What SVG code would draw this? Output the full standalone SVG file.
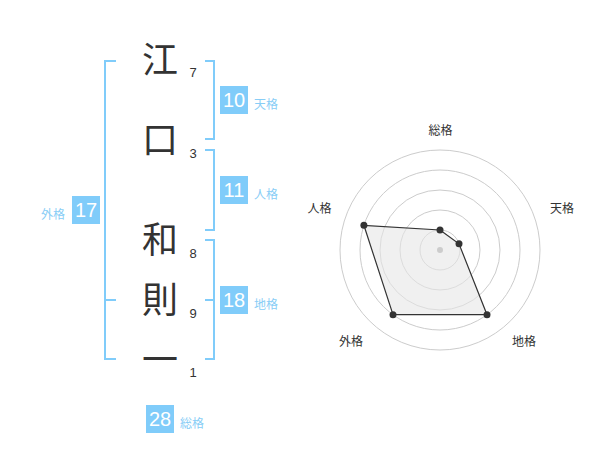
<svg xmlns="http://www.w3.org/2000/svg" width="600" height="470" viewBox="0 0 600 470">
<style>
.ch{font-family:"Noto Sans CJK JP","Noto Sans CJK SC",sans-serif;font-size:36px;fill:#333;text-anchor:middle}
.st{font-family:"Liberation Sans",Arial,sans-serif;font-size:13px;fill:#333;text-anchor:middle}
.bx{fill:#80ccfa}
.bn{font-family:"Liberation Sans",Arial,sans-serif;font-size:20px;fill:#fff;text-anchor:middle}
.bl{font-family:"Noto Sans CJK JP","Noto Sans CJK SC",sans-serif;font-size:12px;fill:#88cdf6}
.br{fill:none;stroke:#80ccfa;stroke-width:2}
.ring{fill:none;stroke:#cccccc;stroke-width:1}
.rl{font-family:"Noto Sans CJK JP","Noto Sans CJK SC",sans-serif;font-size:12px;fill:#333;text-anchor:middle}
</style>
<rect width="600" height="470" fill="#fff"/>
<g id="connectors">
<path class="br" d="M116,61 H105 V359 H116 M105,300 H116"/>
<path class="br" d="M205,61 H214 V139 H205"/>
<path class="br" d="M205,150 H214 V230 H205"/>
<path class="br" d="M205,240 H214 V359 H205 M205,300 H214"/>
</g>
<g id="char-1"><text class="ch" x="160" y="73">江</text><text class="st" x="193" y="77">7</text></g>
<g id="char-2"><text class="ch" x="160" y="153">口</text><text class="st" x="193" y="158">3</text></g>
<g id="char-3"><text class="ch" x="160" y="253">和</text><text class="st" x="193" y="258">8</text></g>
<g id="char-4"><text class="ch" x="160" y="313">則</text><text class="st" x="193" y="318">9</text></g>
<g id="char-5"><text class="ch" x="160" y="373">一</text><text class="st" x="193" y="377">1</text></g>
<g id="tenkaku"><rect class="bx" x="220" y="86" width="28" height="28"/><text class="bn" x="234" y="107">10</text><text class="bl" x="254" y="109">天格</text></g>
<g id="jinkaku"><rect class="bx" x="220" y="176" width="28" height="28"/><text class="bn" x="234" y="197">11</text><text class="bl" x="254" y="199">人格</text></g>
<g id="chikaku"><rect class="bx" x="220" y="286" width="28" height="28"/><text class="bn" x="234" y="307">18</text><text class="bl" x="254" y="309">地格</text></g>
<g id="gaikaku"><rect class="bx" x="72" y="196" width="28" height="28"/><text class="bn" x="86" y="217">17</text><text class="bl" x="41" y="219">外格</text></g>
<g id="soukaku"><rect class="bx" x="146" y="405" width="28" height="28"/><text class="bn" x="160" y="426">28</text><text class="bl" x="180" y="428">総格</text></g>
<g id="radar">
<circle class="ring" cx="440" cy="250" r="20"/>
<circle class="ring" cx="440" cy="250" r="40"/>
<circle class="ring" cx="440" cy="250" r="60"/>
<circle class="ring" cx="440" cy="250" r="80"/>
<circle class="ring" cx="440" cy="250" r="100"/>
<polygon points="440,230 459,243.8 487,314.7 393,314.7 363.9,225.3" fill="#e6e6e6" fill-opacity="0.6" stroke="#333" stroke-width="1.2"/>
<circle cx="440" cy="250" r="3" fill="#cccccc"/>
<g fill="#333">
<circle cx="440" cy="230" r="3.5"/>
<circle cx="459" cy="243.8" r="3.5"/>
<circle cx="487" cy="314.7" r="3.5"/>
<circle cx="393" cy="314.7" r="3.5"/>
<circle cx="363.9" cy="225.3" r="3.5"/>
</g>
<text class="rl" x="440.5" y="135">総格</text>
<text class="rl" x="562" y="213">天格</text>
<text class="rl" x="524" y="346">地格</text>
<text class="rl" x="351" y="346">外格</text>
<text class="rl" x="319.5" y="213">人格</text>
</g>
</svg>
